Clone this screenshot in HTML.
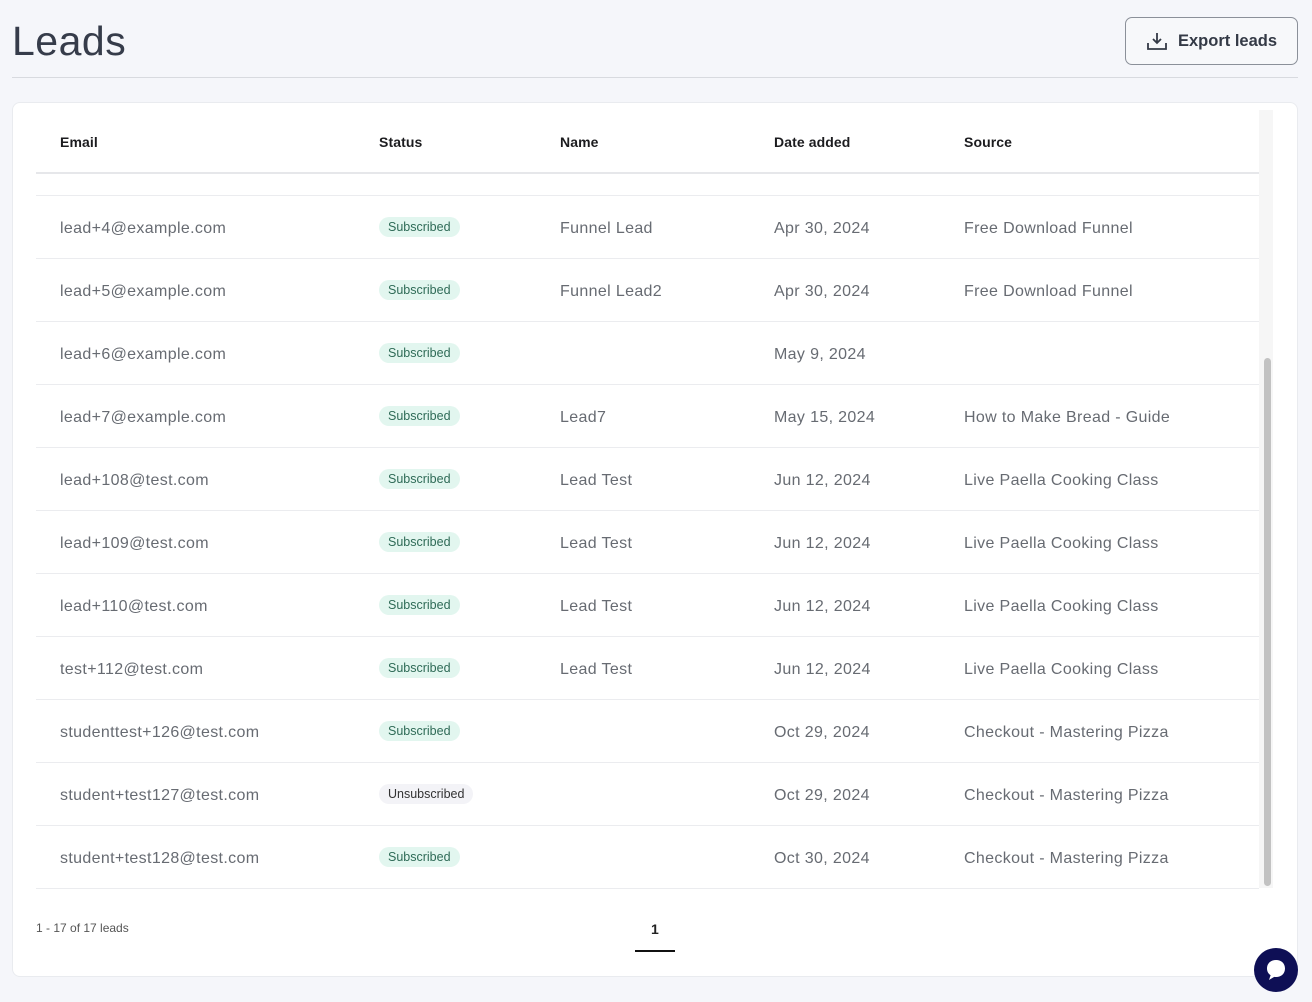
<!DOCTYPE html>
<html><head><meta charset="utf-8">
<style>
*{margin:0;padding:0;box-sizing:border-box}
body{width:1312px;height:1002px;background:#f5f6fa;font-family:"Liberation Sans",sans-serif;position:relative;overflow:hidden}
.abs{position:absolute}
h1{position:absolute;left:12px;top:16px;font-size:41px;font-weight:400;color:#363c4a;line-height:50px;letter-spacing:0.5px}
.hr{left:12px;top:77px;width:1286px;height:1px;background:#d8dadf}
.btn{left:1125px;top:17px;width:173px;height:48px;border:1px solid #8b9099;border-radius:7px;background:#f7f8fa}
.btn span{position:absolute;left:52px;top:14px;font-size:16.5px;font-weight:bold;color:#343a46}
.card{left:12px;top:102px;width:1286px;height:875px;background:#fff;border:1px solid #e9ebef;border-radius:8px}
.th{top:134px;font-size:14px;font-weight:bold;color:#1c1c1f;letter-spacing:0.1px}
.line{left:36px;width:1223px;height:1px;background:#ebecef}
.td{font-size:16px;color:#676b72;line-height:20px;letter-spacing:0.35px;margin-top:2px}
.badge{left:379px;height:20px;border-radius:10px;background:#e2f6ef;color:#2f6b57;font-size:12.5px;line-height:20px;padding:0 9px}
.badge.u{background:#f3f3f7;color:#333}
</style></head><body>
<h1>Leads</h1>
<div class="abs hr"></div>
<div class="abs btn">
<svg class="abs" style="left:21px;top:14px" width="20" height="18" viewBox="0 0 20 18"><path d="M10 1v10M6 7l4 4 4-4M1 11v6h18v-6" fill="none" stroke="#343a46" stroke-width="1.8"/></svg>
<span>Export leads</span></div>
<div class="abs card"></div>
<div class="abs th" style="left:60px">Email</div>
<div class="abs th" style="left:379px">Status</div>
<div class="abs th" style="left:560px">Name</div>
<div class="abs th" style="left:774px">Date added</div>
<div class="abs th" style="left:964px">Source</div>
<div class="abs line" style="top:172px;height:2px;background:#e6e7ea"></div>
<div class="abs line" style="top:195px"></div>
<div class="abs" style="left:1259px;top:110px;width:14px;height:778px;background:#f6f6f6"></div>
<div class="abs" style="left:1264px;top:358px;width:7px;height:528px;background:#c2c2c2;border-radius:4px"></div>

<div class="abs td" style="left:60px;top:217px">lead+4@example.com</div><div class="abs badge" style="top:217px">Subscribed</div><div class="abs td" style="left:560px;top:217px">Funnel Lead</div><div class="abs td" style="left:774px;top:217px">Apr 30, 2024</div><div class="abs td" style="left:964px;top:217px">Free Download Funnel</div><div class="abs line" style="top:258px"></div>
<div class="abs td" style="left:60px;top:280px">lead+5@example.com</div><div class="abs badge" style="top:280px">Subscribed</div><div class="abs td" style="left:560px;top:280px">Funnel Lead2</div><div class="abs td" style="left:774px;top:280px">Apr 30, 2024</div><div class="abs td" style="left:964px;top:280px">Free Download Funnel</div><div class="abs line" style="top:321px"></div>
<div class="abs td" style="left:60px;top:343px">lead+6@example.com</div><div class="abs badge" style="top:343px">Subscribed</div><div class="abs td" style="left:774px;top:343px">May 9, 2024</div><div class="abs line" style="top:384px"></div>
<div class="abs td" style="left:60px;top:406px">lead+7@example.com</div><div class="abs badge" style="top:406px">Subscribed</div><div class="abs td" style="left:560px;top:406px">Lead7</div><div class="abs td" style="left:774px;top:406px">May 15, 2024</div><div class="abs td" style="left:964px;top:406px">How to Make Bread - Guide</div><div class="abs line" style="top:447px"></div>
<div class="abs td" style="left:60px;top:469px">lead+108@test.com</div><div class="abs badge" style="top:469px">Subscribed</div><div class="abs td" style="left:560px;top:469px">Lead Test</div><div class="abs td" style="left:774px;top:469px">Jun 12, 2024</div><div class="abs td" style="left:964px;top:469px">Live Paella Cooking Class</div><div class="abs line" style="top:510px"></div>
<div class="abs td" style="left:60px;top:532px">lead+109@test.com</div><div class="abs badge" style="top:532px">Subscribed</div><div class="abs td" style="left:560px;top:532px">Lead Test</div><div class="abs td" style="left:774px;top:532px">Jun 12, 2024</div><div class="abs td" style="left:964px;top:532px">Live Paella Cooking Class</div><div class="abs line" style="top:573px"></div>
<div class="abs td" style="left:60px;top:595px">lead+110@test.com</div><div class="abs badge" style="top:595px">Subscribed</div><div class="abs td" style="left:560px;top:595px">Lead Test</div><div class="abs td" style="left:774px;top:595px">Jun 12, 2024</div><div class="abs td" style="left:964px;top:595px">Live Paella Cooking Class</div><div class="abs line" style="top:636px"></div>
<div class="abs td" style="left:60px;top:658px">test+112@test.com</div><div class="abs badge" style="top:658px">Subscribed</div><div class="abs td" style="left:560px;top:658px">Lead Test</div><div class="abs td" style="left:774px;top:658px">Jun 12, 2024</div><div class="abs td" style="left:964px;top:658px">Live Paella Cooking Class</div><div class="abs line" style="top:699px"></div>
<div class="abs td" style="left:60px;top:721px">studenttest+126@test.com</div><div class="abs badge" style="top:721px">Subscribed</div><div class="abs td" style="left:774px;top:721px">Oct 29, 2024</div><div class="abs td" style="left:964px;top:721px">Checkout - Mastering Pizza</div><div class="abs line" style="top:762px"></div>
<div class="abs td" style="left:60px;top:784px">student+test127@test.com</div><div class="abs badge u" style="top:784px">Unsubscribed</div><div class="abs td" style="left:774px;top:784px">Oct 29, 2024</div><div class="abs td" style="left:964px;top:784px">Checkout - Mastering Pizza</div><div class="abs line" style="top:825px"></div>
<div class="abs td" style="left:60px;top:847px">student+test128@test.com</div><div class="abs badge" style="top:847px">Subscribed</div><div class="abs td" style="left:774px;top:847px">Oct 30, 2024</div><div class="abs td" style="left:964px;top:847px">Checkout - Mastering Pizza</div><div class="abs line" style="top:888px"></div>

<div class="abs" style="left:36px;top:921px;font-size:12px;color:#555">1 - 17 of 17 leads</div>
<div class="abs" style="left:651px;top:921px;font-size:14px;font-weight:bold;color:#222">1</div>
<div class="abs" style="left:635px;top:950px;width:40px;height:2px;background:#111"></div>
<div class="abs" style="left:1254px;top:948px;width:44px;height:44px;border-radius:50%;background:#0e0f55"></div>
<svg class="abs" style="left:1263px;top:957px" width="26" height="26" viewBox="0 0 26 26"><path d="M13 3C7.5 3 4 6.5 4 11.5c0 3 1.4 5.3 3.6 6.7L6 23l5.2-3.1c.6.1 1.2.1 1.8.1 5.5 0 9-3.6 9-8.5S18.5 3 13 3z" fill="#fff"/></svg>
</body></html>
